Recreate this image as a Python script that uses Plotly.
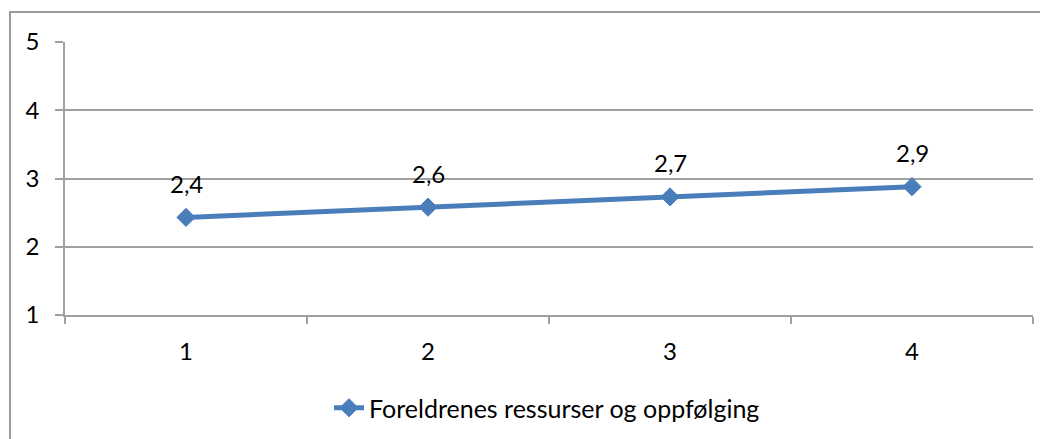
import plotly.graph_objects as go

categories = ["1", "2", "3", "4"]
values = [2.43, 2.58, 2.73, 2.88]
labels = ["2,4", "2,6", "2,7", "2,9"]
series_name = "Foreldrenes ressurser og oppfølging"
y_ticks = [1, 2, 3, 4, 5]

# the page body has an 8px margin, so figure coordinates are shifted by 8px
OFF = 8
W, H = 1048, 439
L, T = 65 - OFF, 42 - OFF
pw, ph = 968, 273
R, B = W - L - pw, H - T - ph

FONT = "Lato"
FS = 24
COLOR = "#4A7EBB"
GRID = "#A0A0A0"

fig = go.Figure()
fig.add_trace(go.Scatter(
    x=categories, y=values, mode="lines+markers", name=series_name,
    line=dict(color=COLOR, width=5),
    marker=dict(symbol="diamond", size=14, color=COLOR, line=dict(color=COLOR, width=1)),
))

for i, (v, t) in enumerate(zip(values, labels)):
    fig.add_annotation(x=i, y=v, text=t, showarrow=False, yshift=34,
                       font=dict(family=FONT, size=FS, color="black"))

# outer chart border (top/left visible, right/bottom beyond the frame)
fig.add_shape(type="rect", xref="paper", yref="paper",
              x0=(10 - OFF - L) / pw, x1=(W + 20 - L) / pw,
              y0=-(H + 20 - T - ph) / ph, y1=1 + (T - (12 - OFF)) / ph,
              line=dict(color="#9C9C9C", width=2), layer="below")

fig.update_layout(
    template="none",
    width=W, height=H,
    margin=dict(l=L, r=R, t=T, b=B, autoexpand=False),
    plot_bgcolor="white", paper_bgcolor="white",
    font=dict(family=FONT, size=FS, color="black"),
    showlegend=True,
    legend=dict(orientation="h", x=(547 - OFF) / W, xref="container", xanchor="center",
                y=1 - (408 - OFF) / H, yref="container", yanchor="middle",
                font=dict(family=FONT, size=25, color="black")),
    xaxis=dict(type="category", range=[-0.5, 3.5], showgrid=False, automargin=False,
               showline=True, linecolor=GRID, linewidth=2,
               ticks="outside", tickson="boundaries", ticklen=7, tickcolor=GRID, tickwidth=1.5,
               ticklabelstandoff=14),
    yaxis=dict(range=[1, 5], tickvals=y_ticks, showgrid=True, gridcolor=GRID, gridwidth=1.5,
               showline=True, linecolor=GRID, linewidth=1.5, zeroline=False, automargin=False,
               ticks="outside", ticklen=8, tickcolor=GRID, tickwidth=1.5,
               ticklabelstandoff=11),
)

fig.write_html("out.html")
